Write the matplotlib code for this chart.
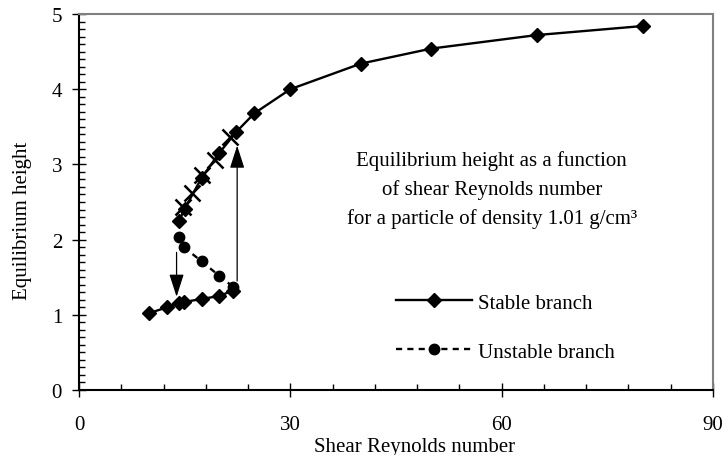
import numpy as np
import matplotlib
matplotlib.use("Agg")
import matplotlib.pyplot as plt
from matplotlib.ticker import MultipleLocator

plt.rcParams['font.family'] = ['Liberation Serif', 'DejaVu Serif']
plt.rcParams['font.size'] = 15

# stable branch, lower part
stable_low_x = [9.9, 12.5, 14.2, 14.9, 17.4, 19.9, 21.8]
stable_low_y = [1.02, 1.10, 1.16, 1.17, 1.21, 1.25, 1.32]

# stable branch, upper part
stable_up_x = [14.2, 15.0, 17.4, 19.9, 22.3, 24.9, 30.0, 40.0, 50.0, 65.0, 80.0]
stable_up_y = [2.25, 2.41, 2.82, 3.15, 3.43, 3.68, 4.00, 4.34, 4.54, 4.72, 4.84]

# unstable branch
unstable_x = [14.2, 14.9, 17.4, 19.9, 21.9]
unstable_y = [2.04, 1.90, 1.71, 1.52, 1.37]

# crosses on upper branch
cross_x = [14.8, 16.0, 17.5, 19.3, 21.4]
cross_y = [2.43, 2.62, 2.86, 3.06, 3.36]

# jump arrows: (x, y_from, y_to)
arrows = [(13.85, 1.83, 1.24), (22.45, 1.45, 3.25)]

note = ("Equilibrium height as a function\n"
        "of shear Reynolds number\n"
        "for a particle of density 1.01 g/cm\u00b3")

fig = plt.figure(figsize=(7.23, 4.56), dpi=100)
ax = fig.add_axes([79/723, 1 - 391/456, 634/723, 376/456])

ax.plot(stable_low_x, stable_low_y, color='black', lw=1.7, marker='D', ms=6.8,
        label='Stable branch')
ax.plot(stable_up_x, stable_up_y, color='black', lw=1.7, marker='D', ms=6.8)
ax.plot(unstable_x, unstable_y, color='black', lw=1.7, ls=(0, (2.6, 2.2)),
        marker='o', ms=7.5, label='Unstable branch')
ax.plot(cross_x, cross_y, ls='none', marker='x', ms=11, mew=1.8, color='black')

for x, y0, y1 in arrows:
    ax.annotate('', xy=(x, y1), xytext=(x, y0),
                arrowprops=dict(arrowstyle='-|>,head_length=1.4,head_width=0.45',
                                mutation_scale=10, lw=0.9, color='black',
                                shrinkA=0, shrinkB=0))

ax.text(58.6, 2.67, note, ha='center', va='center', multialignment='center',
        linespacing=1.6)

ax.set_xlim(0, 90)
ax.set_ylim(0, 5)
ax.xaxis.set_major_locator(MultipleLocator(30))
ax.xaxis.set_minor_locator(MultipleLocator(6))
ax.yaxis.set_major_locator(MultipleLocator(1))
ax.yaxis.set_minor_locator(MultipleLocator(0.1))
ax.tick_params(which='major', direction='inout', length=9.4, width=1.0)
ax.tick_params(which='minor', direction='in', length=4, width=1.0)
ax.tick_params(axis='x', which='major', pad=13)
ax.tick_params(axis='y', which='major', pad=7.5)

for s in ['top', 'right']:
    ax.spines[s].set_color('#808080')
    ax.spines[s].set_linewidth(1.5)
for s in ['left', 'bottom']:
    ax.spines[s].set_color('black')
    ax.spines[s].set_linewidth(1.5)

ax.set_xlabel('Shear Reynolds number')
ax.set_ylabel('Equilibrium height')
ax.xaxis.set_label_coords(0.53, -0.125)
ax.yaxis.set_label_coords(-0.074, 0.452)

ax.legend(loc='upper left', bbox_to_anchor=(0.5, 0.258), frameon=False,
          borderpad=0, borderaxespad=0, handlelength=3.67, handletextpad=0.25,
          labelspacing=1.42, numpoints=1)

fig.savefig('out.png', dpi=100)
